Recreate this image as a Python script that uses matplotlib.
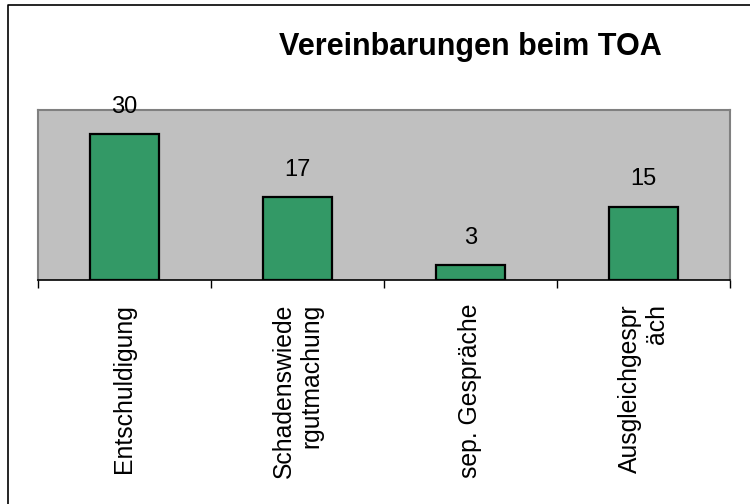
import matplotlib.pyplot as plt
from matplotlib.lines import Line2D

# chart data
categories = ["Entschuldigung", "Schadenswiede\nrgutmachung", "sep. Gespräche", "Ausgleichgespr\näch"]
values = [30, 17, 3, 15]
title = "Vereinbarungen beim TOA"

plt.rcParams['font.family'] = ['Liberation Sans', 'DejaVu Sans']

W, H = 750, 504
fig = plt.figure(figsize=(W / 100, H / 100), dpi=100)

# plot area in pixel terms: x 38..730, y 110..280
ax = fig.add_axes([38 / W, 1 - 280 / H, 692 / W, 170 / H])
ax.set_facecolor('#C0C0C0')

x = list(range(len(values)))
ax.bar(x, values, width=0.4, color='#339966', edgecolor='black', linewidth=1.6, zorder=3)
ax.set_xlim(-0.5, len(values) - 0.5)
ax.set_ylim(0, 35)

# value labels above bars
for i, v in zip(x, values):
    ax.annotate(str(v), (i, v), xytext=(0, 20), textcoords='offset points',
                ha='center', va='center', fontsize=17, clip_on=False, zorder=4)

# ticks at the category boundaries, labels drawn separately
ax.set_xticks([i - 0.5 for i in range(len(values) + 1)])
ax.set_xticklabels([])
ax.tick_params(axis='x', direction='out', length=6, width=1, color='black')
ax.set_yticks([])

for i, lab in zip(x, categories):
    ax.text(i, -24 / 170, lab, transform=ax.get_xaxis_transform(), rotation=90,
            ha='center', va='top', multialignment='right', fontsize=17.8,
            linespacing=1.15)

ax.spines['bottom'].set_color('black')
ax.spines['bottom'].set_linewidth(1.2)
for s in ['top', 'right', 'left']:
    ax.spines[s].set_color('#808080')
    ax.spines[s].set_linewidth(1.5)

fig.text(470 / W, 1 - 47 / H, title, ha='center', va='center', fontsize=22, fontweight='bold')

# outer chart frame: only the top and left edges fall inside the image
fig.lines.append(Line2D([8 / W, 8 / W, 1.0], [0.0, 1 - 5 / H, 1 - 5 / H],
                        transform=fig.transFigure, color='black', linewidth=1.2))

fig.savefig('out.png', dpi=100)
